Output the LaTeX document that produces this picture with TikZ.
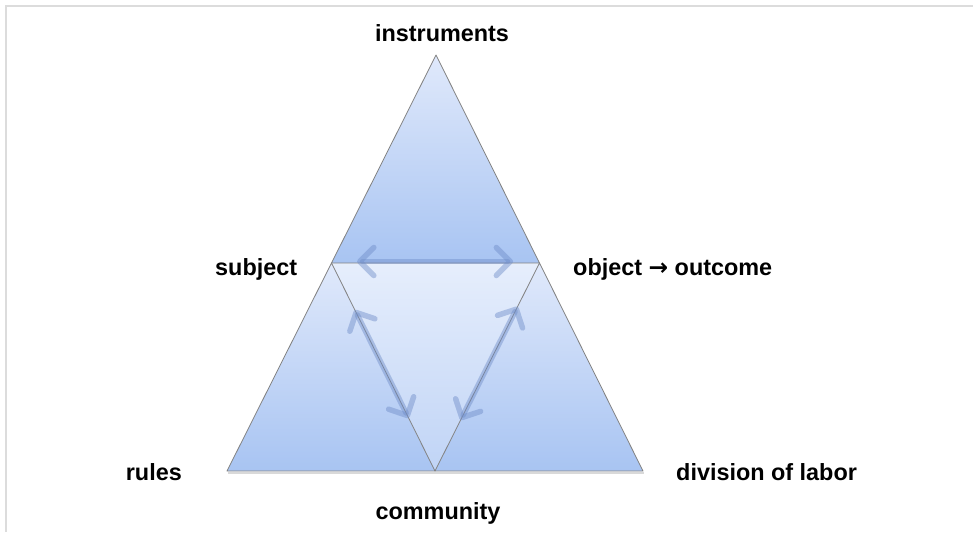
\documentclass[tikz,border=0pt]{standalone}
\usepackage{fontspec}
\setmainfont{Liberation Sans}
\newfontfamily\arrowfont{DejaVu Sans}
\usetikzlibrary{arrows.meta,calc}
\definecolor{edgegray}{RGB}{130,130,130}
\definecolor{framegray}{RGB}{220,220,220}
\definecolor{topA}{RGB}{224,233,251}
\definecolor{topB}{RGB}{168,196,242}
\definecolor{inA}{RGB}{230,238,252}
\definecolor{inB}{RGB}{192,212,246}
\definecolor{arrowblue}{RGB}{110,140,200}
\begin{document}
\begin{tikzpicture}[x=1pt,y=-1pt,
  lbl/.style={inner sep=0pt,font=\fontsize{23.4}{28}\selectfont\bfseries},
  edge/.style={draw=edgegray,line width=0.8pt,line join=round},
  outer/.style={top color=topA,bottom color=topB},
  inner/.style={top color=inA,bottom color=inB},
  flow/.style={draw=arrowblue,line width=5.5pt,line cap=round,opacity=0.45,
    {Straight Barb[length=14pt,width=28pt,line width=5.5pt,round]}-{Straight Barb[length=14pt,width=28pt,line width=5.5pt,round]}}]
\useasboundingbox (0,0) rectangle (973,532);
\fill[white] (0,0) rectangle (973,532);
\draw[framegray,line width=2pt] (973,6.5) -- (5.5,6.5) -- (5.5,532);
% vertices
\coordinate (A) at (436,55);
\coordinate (BL) at (227,471);
\coordinate (BR) at (643,471);
\coordinate (S) at (331.5,263);
\coordinate (O) at (539.5,263);
\coordinate (C) at (435,471);
% shadow under base
\draw[black!15,line width=2pt] ($(BL)+(1,2)$) -- ($(BR)+(1,2)$);
% triangles
\shade[outer] (A) -- (S) -- (O) -- cycle;
\shade[outer] (S) -- (BL) -- (C) -- cycle;
\shade[outer] (O) -- (C) -- (BR) -- cycle;
\shade[inner] (S) -- (O) -- (C) -- cycle;
\draw[edge] (A) -- (S) -- (O) -- cycle;
\draw[edge] (S) -- (BL) -- (C) -- cycle;
\draw[edge] (O) -- (C) -- (BR) -- cycle;
% arrows
\draw[flow] ($(S)!0.123!(O)+(0,-1.5)$) -- ($(S)!0.873!(O)+(0,-1.5)$);
\draw[flow] ($(S)!0.226!(C)$) -- ($(S)!0.745!(C)$);
\draw[flow] ($(O)!0.21!(C)$) -- ($(O)!0.755!(C)$);
% labels
\node[lbl,anchor=base] (linst) at (442,42) {instruments};
\node[lbl,anchor=base west] (lsub) at (215,275) {subject};
\node[lbl,anchor=base west] (lobj) at (573,275) {object {\arrowfont\bfseries →} outcome};
\node[lbl,anchor=base east] (lrul) at (182,480) {rules};
\node[lbl,anchor=base west] (ldiv) at (676,480) {division of labor};
\node[lbl,anchor=base] (lcom) at (438,519) {community};
\end{tikzpicture}
\end{document}
